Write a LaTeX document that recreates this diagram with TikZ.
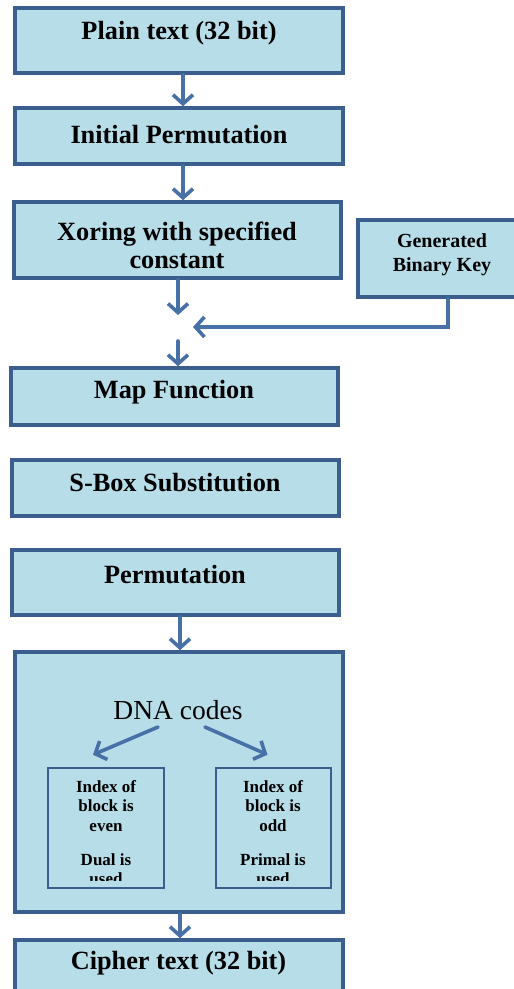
\documentclass[tikz,border=0pt]{standalone}
\usepackage{fontspec}
\setmainfont{Liberation Serif}
\usetikzlibrary{arrows.meta,calc,shadows}
\definecolor{boxc}{HTML}{B7DDE8}
\definecolor{bordc}{HTML}{3A5F8E}
\definecolor{arrc}{HTML}{4670A6}
\begin{document}
\begin{tikzpicture}[x=1pt,y=-1pt,
  box/.style={draw=bordc, fill=boxc, line width=3.6pt, rectangle, inner sep=0pt,
    drop shadow={opacity=0.2, shadow xshift=1.5pt, shadow yshift=-2pt}},
  ibox/.style={draw=bordc, fill=boxc, line width=2.6pt, rectangle, inner sep=0pt},
  txt/.style={font=\fontsize{26.3}{28}\selectfont\bfseries, align=center, inner sep=0pt},
  ktxt/.style={font=\fontsize{20}{24}\selectfont\bfseries, align=center, inner sep=0pt},
  stxt/.style={font=\fontsize{17}{19.5}\selectfont\bfseries, align=center, inner sep=0pt},
  arr/.style={draw=arrc, line width=3.6pt, line cap=round, -{Straight Barb[length=9pt,width=20pt,line width=3.6pt]}},
  sarr/.style={draw=arrc, line width=3.6pt}]
\useasboundingbox (0,0) rectangle (514,989);
\begin{scope}
\clip (0,0) rectangle (514,989);
% boxes
\node[box, minimum width=328pt, minimum height=65pt] (plain) at (179,40.5) {};
\node[box, minimum width=328pt, minimum height=56pt] (init) at (179,136) {};
\node[box, minimum width=327pt, minimum height=76pt] (xor) at (177.5,240) {};
\node[box, minimum width=168pt, minimum height=77pt] (key) at (442,258.5) {};
\node[box, minimum width=327pt, minimum height=57pt] (map) at (174.5,396.5) {};
\node[box, minimum width=327pt, minimum height=56pt] (sbox) at (175.5,488) {};
\node[box, minimum width=327pt, minimum height=65pt] (perm) at (175.5,582.5) {};
\node[box, minimum width=328pt, minimum height=260pt] (dna) at (179,782) {};
\node[ibox, minimum width=116pt, minimum height=120pt] (even) at (106,828) {};
\node[ibox, minimum width=115pt, minimum height=120pt] (odd) at (273.5,828) {};
\node[box, minimum width=328pt, minimum height=70pt] (cipher) at (179,975) {};
% texts
\node[txt] (tplain) at (179,33) {Plain text (32 bit)};
\node[txt] (tinit) at (179,135) {Initial Permutation};
\node[txt] (txor) at (177,245.5) {Xoring with specified\\constant};
\node[ktxt] (tkey) at (442,255) {Generated\\Binary Key};
\node[txt] (tmap) at (174,392) {Map Function};
\node[txt] (tsbox) at (175,483) {S-Box Substitution};
\node[txt] (tperm) at (175,575) {Permutation};
\node[font=\fontsize{27.5}{30}\selectfont, inner sep=0pt] (tdna) at (178,710) {DNA codes};
\node[txt] (tcipher) at (178.5,963) {Cipher text (32 bit)};
\begin{scope}
\clip (49,769) rectangle (330,880);
\node[stxt] (teven) at (106,806) {Index of\\block is\\even};
\node[stxt] (tdual) at (106,869) {Dual is\\used};
\node[stxt] (todd) at (273,806) {Index of\\block is\\odd};
\node[stxt] (tprim) at (273,869) {Primal is\\used};
\end{scope}
% connectors
\coordinate (j1) at (178,315);
\coordinate (j2) at (193,327);
\coordinate (j3) at (178,341);
\draw[arr] (plain.south -| 183,0) -- (init.north -| 183,0);
\draw[arr] (init.south -| 183,0) -- (xor.north -| 183,0);
\draw[arr] (xor.south -| j1) -- (j1);
\draw[arr] (key.south -| 448,0) |- (j2);
\draw[arr] (j3) -- (map.north -| j3);
\draw[arr] (perm.south -| 180,0) -- (dna.north -| 180,0);
\draw[arr] (dna.south -| 180,0) -- (cipher.north -| 180,0);
\coordinate (dl) at (158,727);
\coordinate (dr) at (205,727);
\draw[arr] (dl) -- ($(even.north)+(-13,-12)$);
\draw[arr] (dr) -- ($(odd.north)+(-6,-12)$);
\end{scope}
\end{tikzpicture}
\end{document}
